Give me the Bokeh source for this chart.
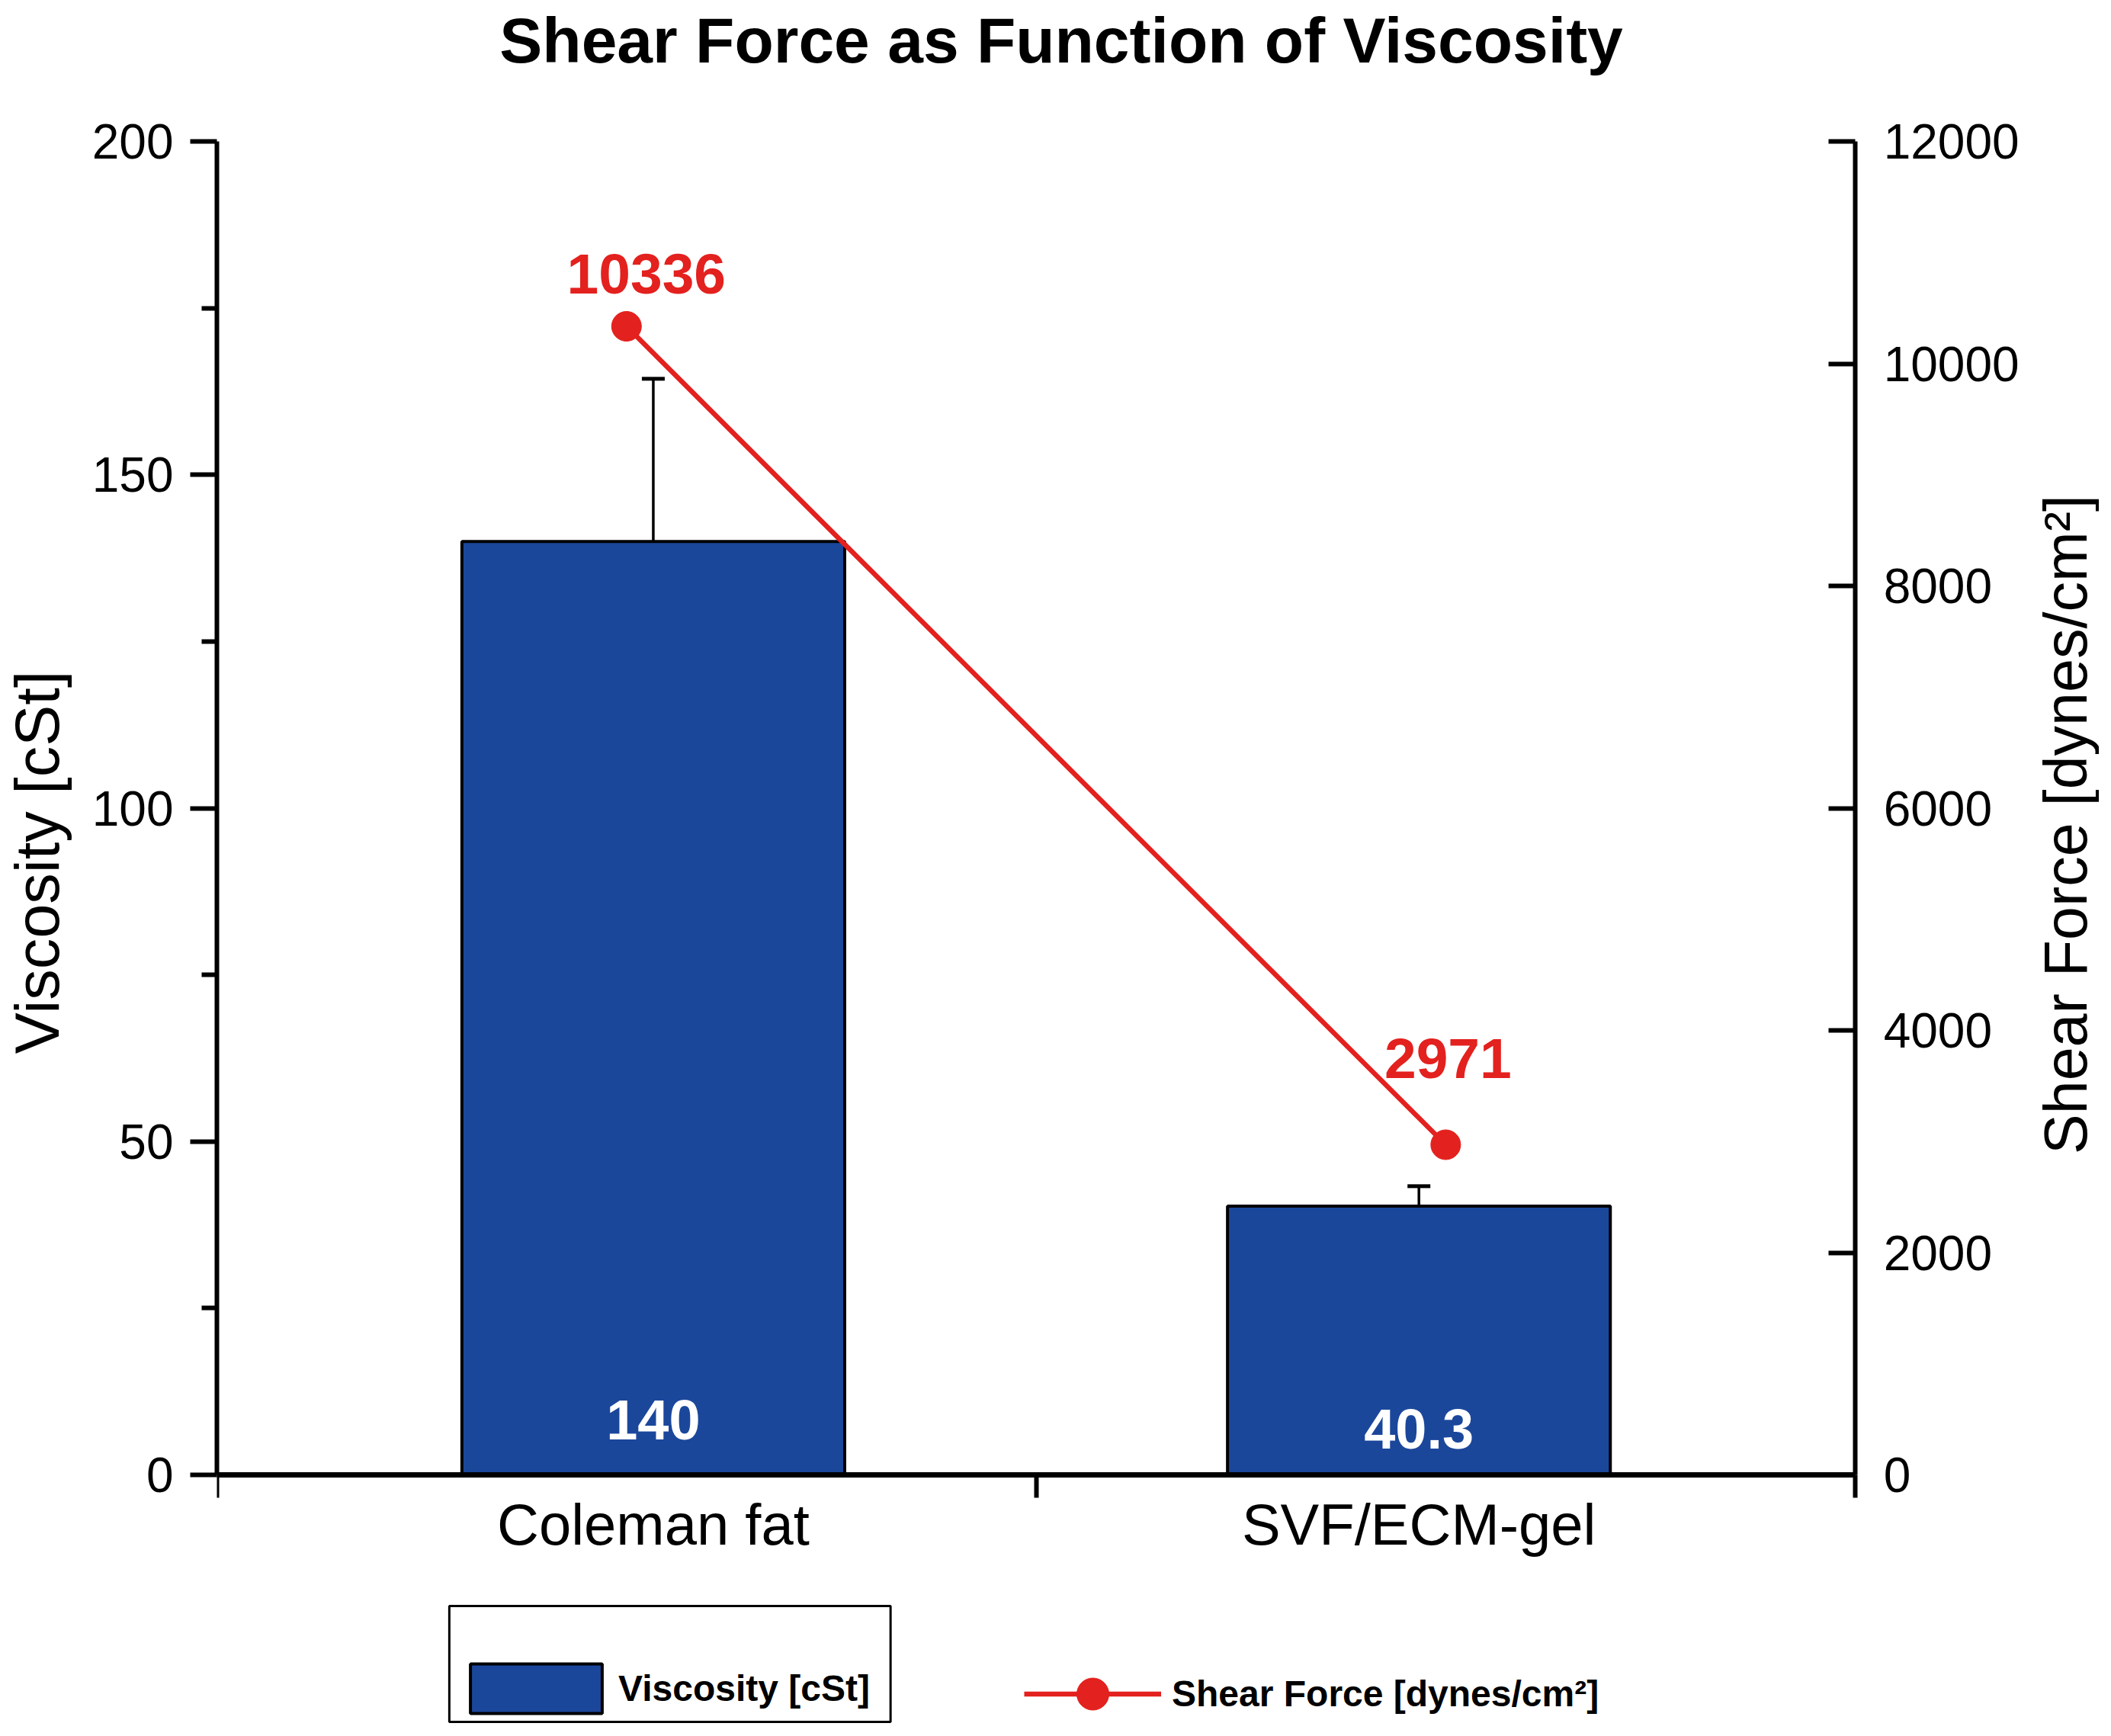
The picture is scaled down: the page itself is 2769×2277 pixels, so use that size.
import math
from bokeh.plotting import figure
from bokeh.models import (Range1d, LinearAxis, FixedTicker, Whisker, ColumnDataSource,
                          Legend, LegendItem, TeeHead, Label, BoxAnnotation)
from bokeh.core.properties import value
from bokeh.embed import file_html
from bokeh.resources import INLINE

# ---------------- data ----------------
categories = ["Coleman fat", "SVF/ECM-gel"]
viscosity = [140, 40.3]            # cSt (bars, left axis)
viscosity_err = [24.4, 3.0]        # upper error (cSt)
shear_force = [10336, 2971]        # dynes/cm^2 (line, right axis)
viscosity_text = ["140", "40.3"]
shear_text = ["10336", "2971"]
left_ticks = [0, 50, 100, 150, 200]
left_minor = [25, 75, 125, 175]
right_ticks = [0, 2000, 4000, 6000, 8000, 10000, 12000]
y_max, y2_max = 200, 12000

title_text = "Shear Force as Function of Viscosity"
y_label = "Viscosity [cSt]"
y2_label = "Shear Force [dynes/cm²]"

# ---------------- style / layout ----------------
FONT = "Liberation Sans"
BLUE = "#1b479b"
RED = "#e3211e"
W, H = 2753, 2261
FRAME_L, AXIS_T = 283, 185        # left axis x, top of value axes (px)
ZERO_Y, AXIS_R = 1934, 2433       # x-axis y, right axis x (px)
X_LEFT, X_RIGHT = 0.43, len(categories) + 0.57   # category-axis extent

ppx = (AXIS_R - FRAME_L) / (X_RIGHT - X_LEFT)          # px per x unit
ppy = (ZERO_Y - AXIS_T) / y_max                         # px per y unit


def x_of(px):
    return X_LEFT + (px - FRAME_L) / ppx


def y_of(py):
    return (ZERO_Y - py) / ppy


x_end = x_of(W)
y_start, y_end = y_of(H), y_of(0)
ppx2 = (AXIS_R - FRAME_L) / len(categories)             # line series x scale
x2_end = len(categories) + 0.5 + (W - AXIS_R) / ppx2
k2 = y2_max / y_max

xs = list(range(1, len(categories) + 1))
src = ColumnDataSource(dict(
    x=xs, top=viscosity,
    upper=[v + e for v, e in zip(viscosity, viscosity_err)],
    vlab=viscosity_text, v_dy=[-73, -61],
    sf=shear_force, sflab=shear_text,
    sf_dx=[26, 3], sf_dy=[-69, -113],
))

p = figure(width=W, height=H, output_backend="svg", toolbar_location=None,
           x_range=Range1d(X_LEFT, x_end), y_range=Range1d(y_start, y_end),
           min_border_left=FRAME_L, min_border_right=0,
           min_border_top=0, min_border_bottom=0)
p.extra_y_ranges = {"sf": Range1d(y_start * k2, y_end * k2)}
p.extra_x_ranges = {"sfx": Range1d(0.5, x2_end)}
p.outline_line_color = None
p.grid.visible = False
p.background_fill_color = "white"
p.border_fill_color = "white"

# title
p.add_layout(Label(x=x_of(1391), y=y_of(52), text=title_text,
                   text_align="center", text_baseline="alphabetic",
                   text_font=FONT, text_font_size="84px", text_font_style="bold",
                   text_color="black"))

# bars
bars = p.vbar(x="x", top="top", width=0.5, source=src, fill_color=BLUE,
              line_color="black", line_width=4)

# error bars (upper only)
wh = Whisker(source=src, base="x", lower="top", upper="upper", dimension="height",
             upper_head=TeeHead(size=30, line_width=5, line_color="black"),
             lower_head=None, line_width=3.5, line_color="black", level="glyph")
p.add_layout(wh)

# bar value labels
p.text(x="x", y=0, text="vlab", source=src, y_offset="v_dy",
       text_align="center", text_baseline="middle", text_color="white",
       text_font=value(FONT), text_font_style="bold", text_font_size="74px")

# shear force line + markers
line_r = p.line(x="x", y="sf", source=src, x_range_name="sfx", y_range_name="sf",
                line_color=RED, line_width=6.5)
pts = p.scatter(x="x", y="sf", source=src, x_range_name="sfx", y_range_name="sf",
                size=39, fill_color=RED, line_color=RED, marker="circle")
p.text(x="x", y="sf", text="sflab", source=src, x_range_name="sfx", y_range_name="sf",
       x_offset="sf_dx", y_offset="sf_dy",
       text_align="center", text_baseline="middle", text_color=RED,
       text_font=value(FONT), text_font_style="bold", text_font_size="75px")

# ---------------- axes ----------------
xa = p.xaxis[0]
xa.fixed_location = 0
xa.bounds = (X_LEFT, X_RIGHT)
xa.ticker = FixedTicker(ticks=xs, minor_ticks=[X_LEFT, (xs[0] + xs[-1]) / 2, X_RIGHT])
xa.major_label_overrides = {x: c for x, c in zip(xs, categories)}
xa.major_tick_out = 0
xa.major_tick_in = 0
xa.minor_tick_out = 30
xa.minor_tick_in = 0
xa.minor_tick_line_width = 6
xa.minor_tick_line_color = "black"
xa.axis_line_width = 7
xa.axis_line_color = "black"
xa.major_label_standoff = -8
xa.major_label_text_font = FONT
xa.major_label_text_font_size = "76px"
xa.major_label_text_color = "black"

ya = p.yaxis[0]
ya.bounds = (0, y_max)
ya.ticker = FixedTicker(ticks=left_ticks, minor_ticks=left_minor)
ya.major_tick_out = 35
ya.major_tick_in = 0
ya.minor_tick_out = 20
ya.minor_tick_in = 0
ya.major_tick_line_width = 6
ya.minor_tick_line_width = 6
ya.axis_line_width = 6
ya.major_label_standoff = 22
ya.major_label_text_font = FONT
ya.major_label_text_font_size = "64px"
ya.major_label_text_color = "black"
ya.axis_label = y_label
ya.axis_label_standoff = 24
ya.axis_label_text_font = FONT
ya.axis_label_text_font_size = "81px"
ya.axis_label_text_font_style = "normal"
ya.axis_label_text_color = "black"

yr = LinearAxis(y_range_name="sf", ticker=FixedTicker(ticks=right_ticks),
                fixed_location=X_RIGHT, bounds=(0, y2_max))
yr.major_tick_in = 35
yr.major_tick_out = 0
yr.minor_tick_in = 0
yr.minor_tick_out = 0
yr.major_tick_line_width = 6
yr.axis_line_width = 6
yr.major_label_standoff = 37
yr.major_label_text_font = FONT
yr.major_label_text_font_size = "64px"
yr.major_label_text_color = "black"
p.add_layout(yr, "right")

# right axis title (reads bottom to top)
p.add_layout(Label(x=x_of(2709), y=y_of(1081), text=y2_label, angle=math.pi / 2,
                   text_align="center", text_baseline="middle",
                   text_font=FONT, text_font_size="79px", text_color="black"))

# ---------------- legends ----------------
p.add_layout(BoxAnnotation(left=x_of(588), right=x_of(1167), top=y_of(2106),
                           bottom=y_of(2258), fill_alpha=0, line_alpha=1,
                           line_color="black", line_width=3, level="overlay"))
leg1 = Legend(items=[LegendItem(label=y_label, renderers=[bars])],
              location=(594 - FRAME_L, 6), orientation="vertical",
              border_line_color=None, background_fill_alpha=0,
              padding=0, spacing=0, margin=0,
              glyph_width=216, glyph_height=81, label_standoff=0,
              label_text_font=FONT, label_text_font_style="bold",
              label_text_font_size="48px", label_text_color="black")
leg2 = Legend(items=[LegendItem(label=y2_label, renderers=[line_r, pts])],
              location=(1342 - FRAME_L, -13), orientation="vertical",
              border_line_color=None, background_fill_alpha=0,
              padding=0, spacing=0, margin=0,
              glyph_width=180, glyph_height=105, label_standoff=14,
              label_text_font=FONT, label_text_font_style="bold",
              label_text_font_size="48px", label_text_color="black")
p.add_layout(leg1)
p.add_layout(leg2)

open("out.html", "w").write(file_html(p, INLINE))
